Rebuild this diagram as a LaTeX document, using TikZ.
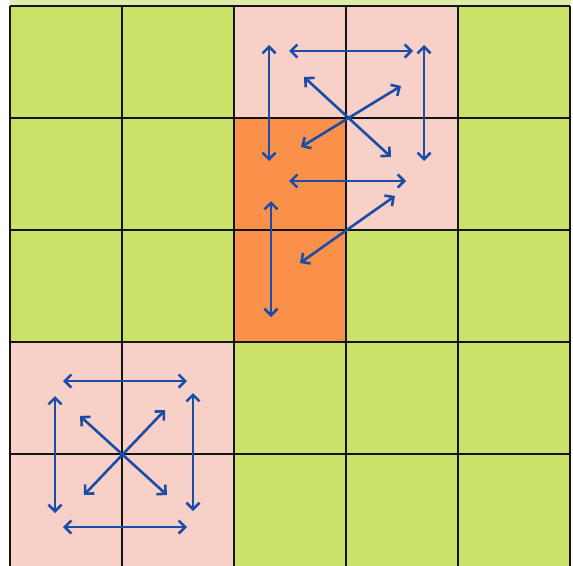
\documentclass[tikz,border=0pt]{standalone}
\usetikzlibrary{arrows.meta}
\definecolor{cellgreen}{RGB}{201,226,103}
\definecolor{topgreen}{RGB}{222,238,170}
\definecolor{cellpink}{RGB}{247,208,199}
\definecolor{cellorange}{RGB}{250,145,75}
\definecolor{arrowblue}{RGB}{26,76,168}
\begin{document}
\begin{tikzpicture}[x=1pt,y=-1pt,
  gridline/.style={line width=1.6pt, draw=black!92},
  dbl/.style={draw=arrowblue, line width=2.6pt,
    {Straight Barb[length=6.5pt,width=13pt]}-{Straight Barb[length=6.5pt,width=13pt]}}]
\useasboundingbox (0,0) rectangle (573,565);
\clip (0,0) rectangle (573,565);
\fill[white] (0,0) rectangle (573,565);
\fill[topgreen] (10,0) rectangle (571,6);
% cells
\fill[cellgreen] (10,6) rectangle (570,566);
\foreach \c/\r in {2/0,3/0,3/1,0/3,1/3,0/4,1/4}
  \fill[cellpink] ({10+112*\c},{6+112*\r}) rectangle ++(112,112);
\foreach \c/\r in {2/1,2/2}
  \fill[cellorange] ({10+112*\c},{6+112*\r}) rectangle ++(112,112);
% grid lines
\foreach \i in {0,...,5}
  \draw[gridline] ({10+112*\i},6) -- ({10+112*\i},566);
\foreach \i in {0,...,4}
  \draw[gridline] (10,{6+112*\i}) -- (570,{6+112*\i});
% upper-right group
\coordinate (a1) at (269,45);  \coordinate (a2) at (269,161);
\coordinate (b1) at (289,51);  \coordinate (b2) at (413,51);
\coordinate (c1) at (424,45);  \coordinate (c2) at (424,161);
\coordinate (d1) at (304,77);  \coordinate (d2) at (391,157);
\coordinate (e1) at (401,86);  \coordinate (e2) at (301,147);
\coordinate (f1) at (289,181); \coordinate (f2) at (406,181);
\coordinate (g1) at (395,196); \coordinate (g2) at (300,263);
\coordinate (h1) at (271,201); \coordinate (h2) at (271,317);
\foreach \p in {a,b,c,d,e,f,g,h} \draw[dbl] (\p1) -- (\p2);
% lower-left group
\coordinate (k1) at (63,381);  \coordinate (k2) at (187,381);
\coordinate (l1) at (55,396);  \coordinate (l2) at (55,513);
\coordinate (m1) at (193,393); \coordinate (m2) at (193,511);
\coordinate (n1) at (63,527);  \coordinate (n2) at (187,527);
\coordinate (o1) at (80,416);  \coordinate (o2) at (167,495);
\coordinate (q1) at (84,495);  \coordinate (q2) at (165,410);
\foreach \p in {k,l,m,n,o,q} \draw[dbl] (\p1) -- (\p2);
\end{tikzpicture}
\end{document}
